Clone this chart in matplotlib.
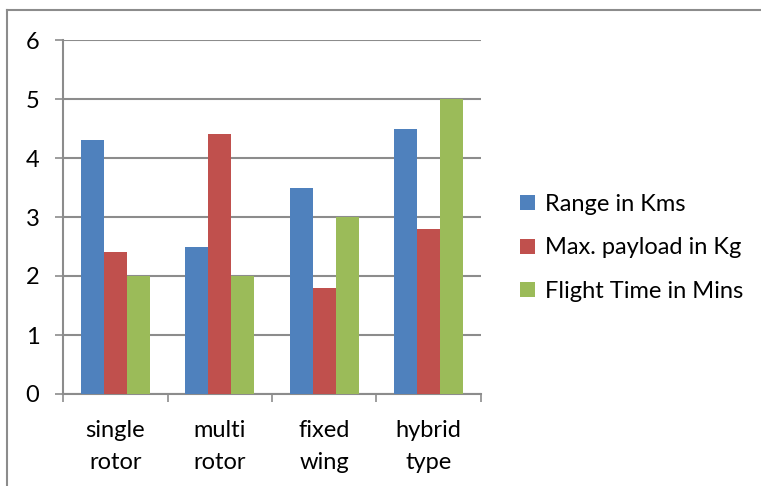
import numpy as np
import matplotlib.pyplot as plt
from matplotlib.lines import Line2D
from matplotlib.patches import Patch

categories = ['single\nrotor', 'multi\nrotor', 'fixed\nwing', 'hybrid\ntype']
range_kms = [4.3, 2.5, 3.5, 4.5]
payload_kg = [2.4, 4.4, 1.8, 2.8]
flight_mins = [2.0, 2.0, 3.0, 5.0]
series_names = ['Range in Kms', 'Max. payload in Kg', 'Flight Time in Mins']
colors = ['#4F81BD', '#C0504D', '#9BBB59']

plt.rcParams['font.family'] = ['Lato', 'DejaVu Sans']

W, H = 761, 486
fig = plt.figure(figsize=(W / 100, H / 100), dpi=100)
ax = fig.add_axes([63 / W, 1 - 394 / H, (481 - 63) / W, (394 - 40) / H])

x = np.arange(len(categories))
bw = 0.22
for i, (vals, c) in enumerate(zip([range_kms, payload_kg, flight_mins], colors)):
    ax.bar(x + (i - 1) * bw, vals, width=bw, color=c, zorder=3)

ax.set_xlim(-0.5, len(categories) - 0.5)
ax.set_ylim(0, 6)
ax.set_yticks(range(7))
ax.yaxis.grid(True, color='#8c8c8c', linewidth=1.5, zorder=0)
ax.tick_params(axis='y', length=6, width=1.2, color='#8c8c8c', labelsize=17, pad=11)

# category boundaries carry the tick marks, labels sit in between
ax.set_xticks(np.arange(len(categories) + 1) - 0.5)
ax.set_xticklabels([])
ax.set_xticks(x, minor=True)
ax.set_xticklabels(categories, minor=True, fontsize=17, linespacing=1.6)
ax.tick_params(axis='x', which='major', length=6, width=1.2, color='#8c8c8c', direction='out')
ax.tick_params(axis='x', which='minor', length=0, pad=19)

for s in ['top', 'right']:
    ax.spines[s].set_visible(False)
for s in ['left', 'bottom']:
    ax.spines[s].set_color('#8c8c8c')
    ax.spines[s].set_linewidth(1.5)

handles = [Patch(facecolor=c, edgecolor='none') for c in colors]
fig.legend(handles, series_names, loc='center left', bbox_to_anchor=(511 / W, 1 - 248 / H),
           frameon=False, fontsize=17, handlelength=0.6, handleheight=0.6,
           handletextpad=0.45, labelspacing=0.95, borderaxespad=0)

# outer chart frame
fig.add_artist(Line2D([7 / W, 1], [1 - 10 / H, 1 - 10 / H], color='#8c8c8c', linewidth=1.5))
fig.add_artist(Line2D([7 / W, 7 / W], [0, 1 - 10 / H], color='#8c8c8c', linewidth=1.5))

fig.savefig('out.png', dpi=100)
